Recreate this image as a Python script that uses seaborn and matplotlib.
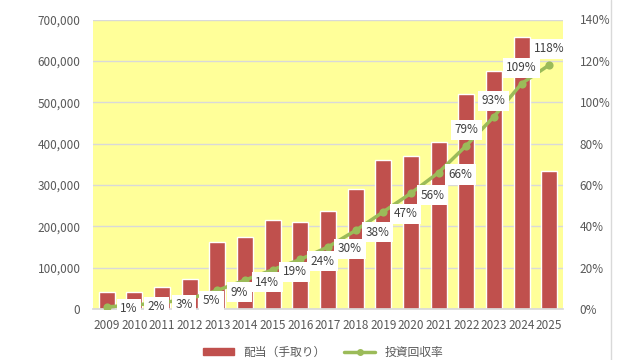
"""配当（手取り）と投資回収率の推移グラフ。"""

import matplotlib

matplotlib.use("Agg")

import matplotlib.pyplot as plt
import pandas as pd
import seaborn as sns
from matplotlib.lines import Line2D
from matplotlib.patches import Patch
from matplotlib.ticker import FuncFormatter, MultipleLocator

sns.set_theme(style="white")
plt.rcParams["font.family"] = ["Noto Sans CJK JP", "DejaVu Sans"]

# ---------------------------------------------------------------- datos
anios = [str(a) for a in range(2009, 2026)]
dividendos = [40000, 42000, 54000, 73000, 163000, 174000, 216000, 210000, 238000,
              290000, 361000, 370000, 404000, 521000, 575000, 658000, 333000]
recuperacion = [1, 2, 3, 5, 9, 14, 19, 24, 30, 38, 47, 56, 66, 79, 93, 109, 118]

ROJO = "#C0504D"
VERDE = "#9BBB59"
AMARILLO = "#FFFF99"
GRIS_TXT = "#595959"
GRIS_GRID = "#D9D9D9"

df = pd.DataFrame({"anio": anios, "dividendo": dividendos,
                   "roi": [v / 100 for v in recuperacion]})

fig = plt.figure(figsize=(6.4, 3.6), dpi=100)
eje = fig.add_axes([93 / 640, 51 / 360, 470 / 640, 289.5 / 360])
eje.set_facecolor(AMARILLO)

sns.barplot(data=df, x="anio", y="dividendo", color=ROJO, width=0.58,
            saturation=1, ax=eje)
eje.set_ylim(0, 700000)
eje.yaxis.set_major_locator(MultipleLocator(100000))
eje.yaxis.set_major_formatter(FuncFormatter(lambda v, _: f"{v:,.0f}"))
eje.grid(axis="y", color=GRIS_GRID, linewidth=1)
eje.set_axisbelow(True)
eje.set_xlabel("")
eje.set_ylabel("")

eje2 = eje.twinx()
sns.pointplot(data=df, x="anio", y="roi", color=VERDE, markers="o",
              markersize=4, linewidth=2.5, ax=eje2)
eje2.set_ylim(0, 1.4)
eje2.yaxis.set_major_locator(MultipleLocator(0.2))
eje2.yaxis.set_major_formatter(FuncFormatter(lambda v, _: f"{v * 100:.0f}%"))
eje2.set_xlabel("")
eje2.set_ylabel("")

for e in (eje, eje2):
    for s in e.spines.values():
        s.set_visible(False)
    e.tick_params(length=0, labelsize=8.5, colors=GRIS_TXT)
eje.tick_params(axis="x", pad=7)
eje.tick_params(axis="y", pad=9)
eje2.tick_params(axis="y", pad=12)
eje.spines["bottom"].set_visible(True)
eje.spines["bottom"].set_color(GRIS_GRID)

# etiquetas de datos
for i, v in enumerate(recuperacion):
    if i < 13:
        desp = (22, -2)
    else:
        desp = (0, 16)
    eje2.annotate(f"{v}%", (i, v / 100), xytext=desp, textcoords="offset pixels",
                  ha="center", va="center", fontsize=8.5, color="#404040",
                  bbox=dict(boxstyle="square,pad=0.3", fc="white", ec="none"))

# leyenda
manejadores = [Patch(color=ROJO, label="配当（手取り）"),
               Line2D([], [], color=VERDE, linewidth=2.5, marker="o",
                      markersize=4, label="投資回収率")]
fig.legend(handles=manejadores, loc="center", bbox_to_anchor=(0.505, 0.022),
           ncol=2, frameon=False, fontsize=8.5, labelcolor=GRIS_TXT,
           handlelength=2.6, handleheight=0.5, columnspacing=1.6)

fig.add_artist(Line2D([611 / 640, 611 / 640], [0, 1], transform=fig.transFigure,
                      color=GRIS_GRID, linewidth=1))

fig.savefig("out.png", dpi=100)
